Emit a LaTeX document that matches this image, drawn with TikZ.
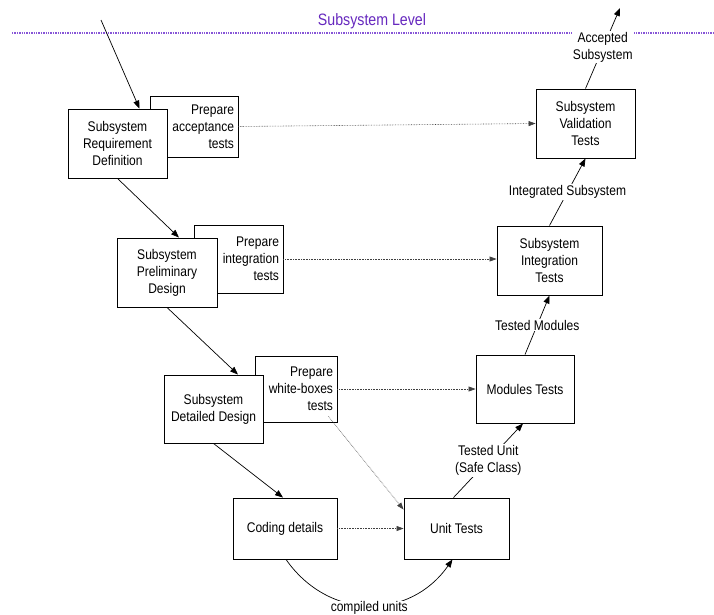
\documentclass[tikz,border=0pt]{standalone}
\usepackage{fontspec}
\setmainfont{Liberation Sans}[FakeStretch=0.86]
\usetikzlibrary{arrows.meta,calc}
\definecolor{lvl}{RGB}{102,40,190}
\definecolor{lvlline}{RGB}{135,85,215}
\begin{document}
\begin{tikzpicture}[x=1pt,y=-1pt,
  every node/.style={font=\fontsize{14}{17}\selectfont},
  box/.style={draw,line width=0.9pt,fill=white,align=center,inner sep=2pt},
  backbox/.style={draw,line width=0.9pt,fill=white,align=right,inner xsep=4pt,inner ysep=0pt},
  arr/.style={line width=0.7pt,-{Triangle[length=8pt,width=6pt]}},
  darr/.style={line width=0.6pt,densely dotted,black!75,-{Triangle[length=7pt,width=5pt]}},
  lbl/.style={fill=white,align=center,inner sep=1pt}]
\useasboundingbox (0,0) rectangle (714,614);
% level
\draw[lvlline,line width=1.3pt,dash pattern=on 1.3pt off 1.1pt] (12,33) -- (714,33);
\node[text=lvl,font=\fontsize{16.5}{19}\selectfont] (lvltxt) at (372,21) {Subsystem Level};
% back boxes
\node[backbox,text width=80pt,minimum height=61pt] (prepA) at (194,126.5) {Prepare\\acceptance\\tests};
\node[backbox,text width=81pt,minimum height=68pt] (prepI) at (238.5,259) {Prepare\\integration\\tests};
\node[backbox,text width=74pt,minimum height=66pt] (prepW) at (296,389) {Prepare\\white-boxes\\tests};
% front boxes
\node[box,minimum width=99pt,minimum height=69pt] (req) at (117.5,143.5) {Subsystem\\Requirement\\Definition};
\node[box,minimum width=100pt,minimum height=69pt] (prel) at (167,272.5) {Subsystem\\Preliminary\\Design};
\node[box,minimum width=99pt,minimum height=68pt] (det) at (213.5,409) {Subsystem\\Detailed Design};
\node[box,minimum width=104pt,minimum height=61pt] (code) at (285,528.5) {Coding details};
\node[box,minimum width=105pt,minimum height=61pt] (unit) at (456.5,528.5) {Unit Tests};
\node[box,minimum width=98pt,minimum height=68pt] (mod) at (525,389) {Modules Tests};
\node[box,minimum width=105pt,minimum height=69pt] (integ) at (549.5,260.5) {Subsystem\\Integration\\Tests};
\node[box,minimum width=99pt,minimum height=69pt] (valid) at (585.5,123.5) {Subsystem\\Validation\\Tests};
% free ends
\coordinate (in) at (101,20);
\coordinate (out) at (620,8);
\coordinate (wstart) at ($(prepW.south east)+(-9,-6)$);
% descending solid arrows
\draw[arr] (in) -- ($(req.north)+(22,0)$);
\draw[arr] (req.south) -- ($(prel.north)+(12,0)$);
\draw[arr] (prel.south) -- ($(det.north)+(24.5,0)$);
\draw[arr] (det.south) -- ($(code.north)+(-2,0)$);
% dotted arrows
\draw[darr] (prepA.east) -- (valid.west);
\draw[darr] (prepI.east) -- (prepI.east -| integ.west);
\draw[darr] (prepW.east) -- (mod.west);
\draw[darr] (wstart) -- ($(unit.north west)+(0,12)$);
\draw[darr] (code.east) -- (unit.west);
% compiled units
\draw[arr] ($(code.south)+(1,0)$) to[out=-55,in=-125,looseness=1.15] node[lbl,pos=0.5,yshift=-3pt] (cu) {compiled units} ($(unit.south)+(-4,0)$);
% ascending arrows
\draw[arr] ($(unit.north)+(-3,0)$) -- node[lbl] (tu) {Tested Unit\\(Safe Class)} ($(mod.south)+(-2,0)$);
\draw[arr] (mod.north) -- node[lbl] (tm) {Tested Modules} (integ.south);
\draw[arr] (integ.north) -- node[lbl] (is) {Integrated Subsystem} (valid.south);
\draw[arr] (valid.north) -- node[lbl,yshift=1pt] (as) {Accepted\\Subsystem} (out);
\end{tikzpicture}
\end{document}
